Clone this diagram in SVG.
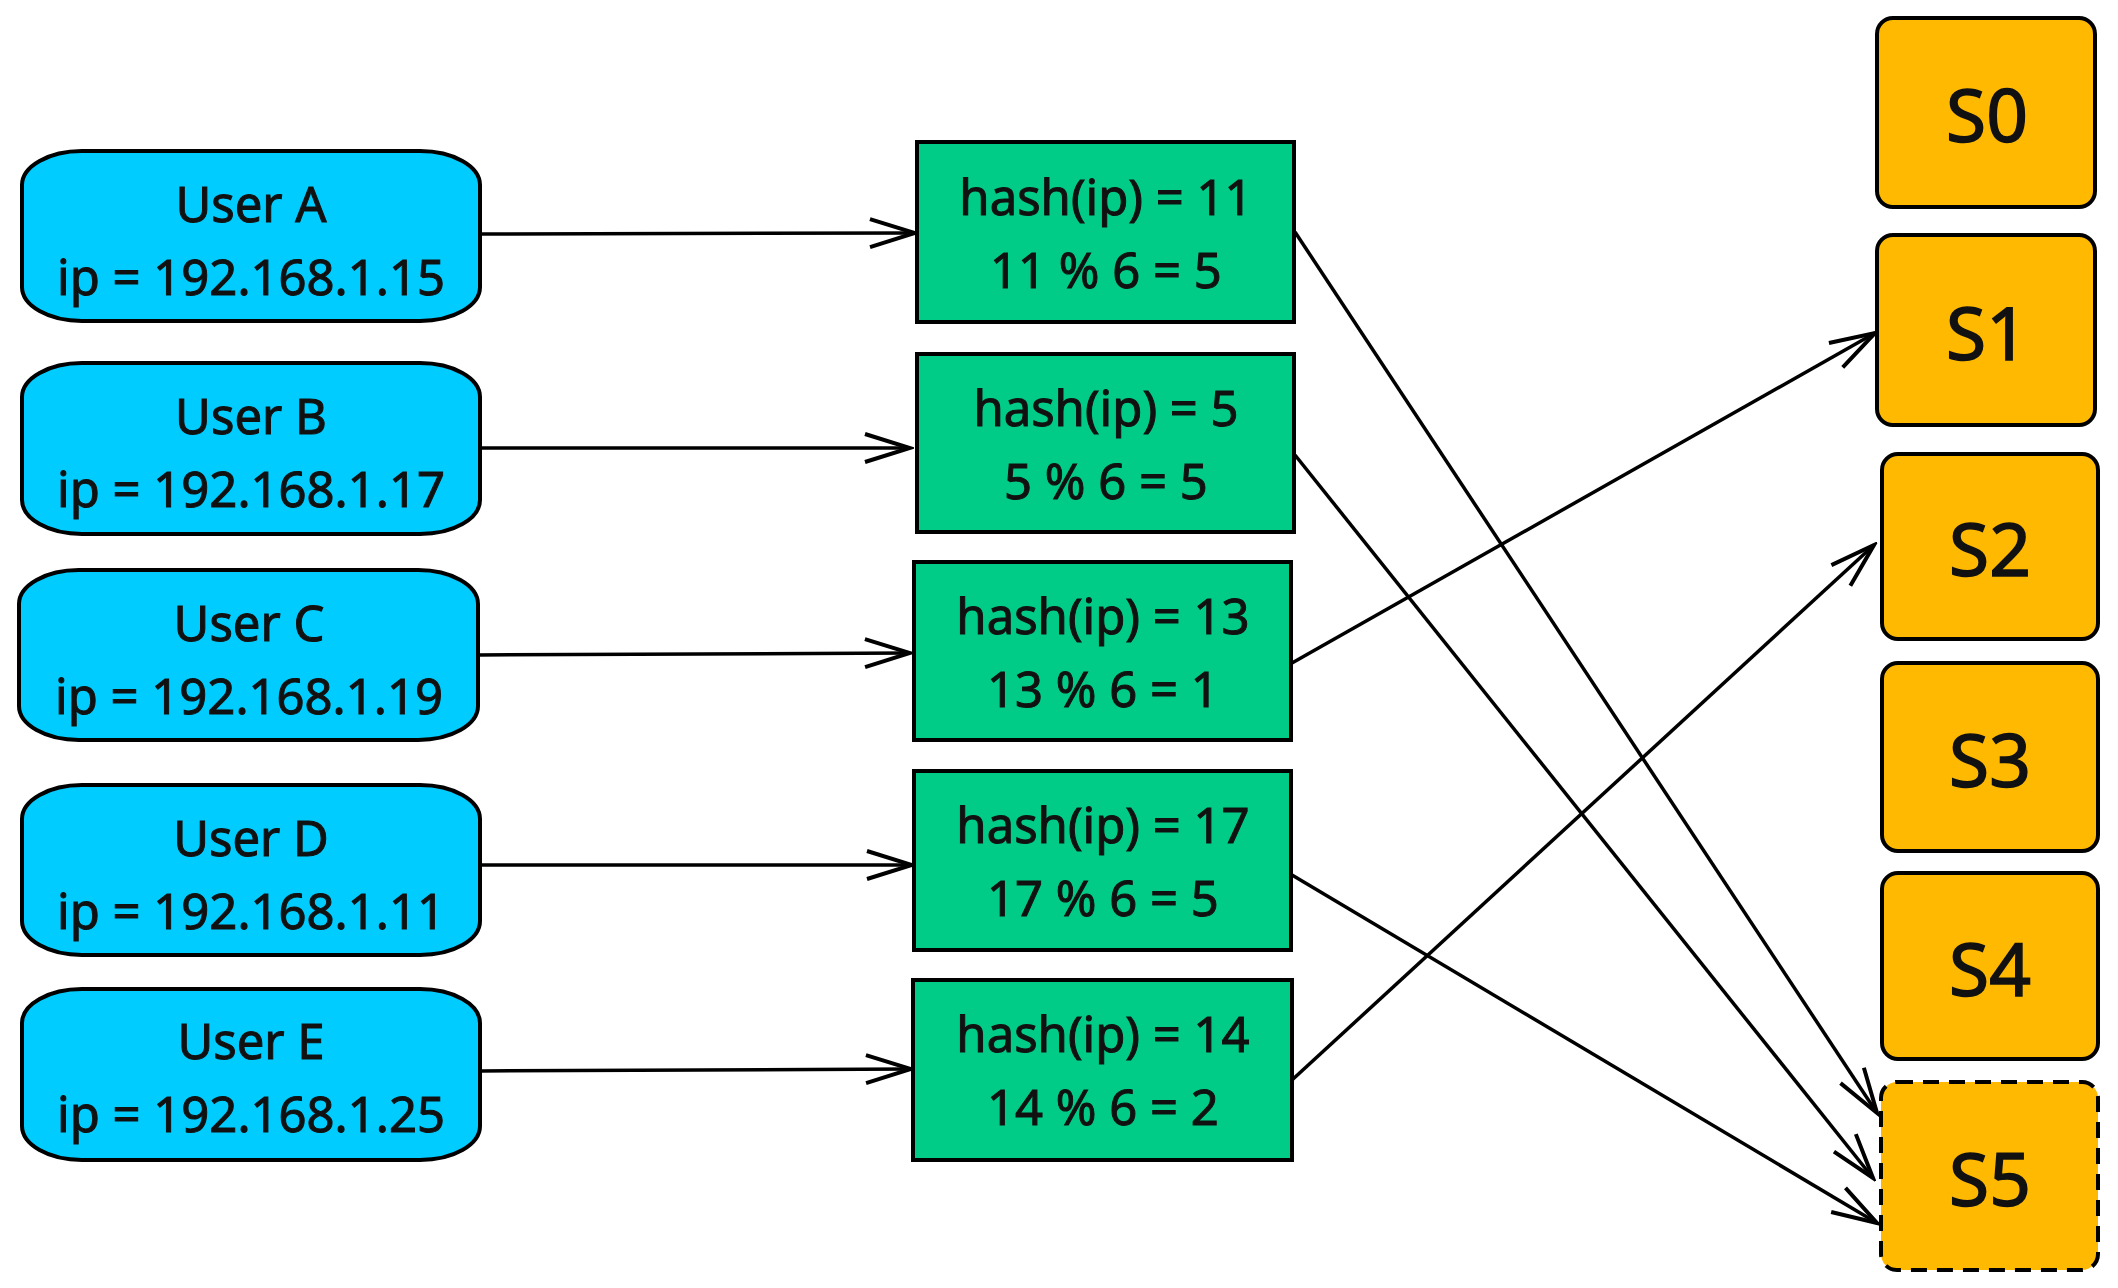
<svg xmlns="http://www.w3.org/2000/svg" width="2118" height="1288" viewBox="0 0 2118 1288">
<style>
text{font-family:"Comic Sans MS","Noto Sans","DejaVu Sans",sans-serif;fill:#111;stroke:#111;stroke-width:1;text-anchor:middle}
.u{fill:#00CCFF;stroke:#000;stroke-width:4}
.h{fill:#00CC88;stroke:#000;stroke-width:4}
.s{fill:#FFB900;stroke:#000;stroke-width:4}
.t{font-size:49px}
.st{font-size:73px;stroke-width:1.5}
.c{fill:none;stroke:#000;stroke-width:3.5;marker-end:url(#arr)}
</style>
<defs>
<marker id="arr" markerUnits="userSpaceOnUse" markerWidth="52" markerHeight="36" viewBox="-3 -3 52 36" refX="45" refY="14" orient="auto">
<path d="M0,0 L45,14 L0,28" fill="none" stroke="#000" stroke-width="4"/>
</marker>
</defs>
<rect width="2118" height="1288" fill="#fff"/>
<g id="connectors">
<path class="c" d="M480,234 L915,233"/>
<path class="c" d="M480,448 L910,448"/>
<path class="c" d="M478,655 L910,653"/>
<path class="c" d="M480,865 L912,865"/>
<path class="c" d="M480,1071 L911,1069"/>
<path class="c" d="M1295,232 L1877,1113"/>
<path class="c" d="M1295,455 L1873,1178"/>
<path class="c" d="M1292,663 L1875,333"/>
<path class="c" d="M1292,875 L1877,1223"/>
<path class="c" d="M1292,1080 L1874,545"/>
</g>
<g id="userA"><rect class="u" x="22" y="151" width="458" height="170" rx="60" ry="34"/><text class="t" x="251" y="222">User A</text><text class="t" x="251" y="295">ip = 192.168.1.15</text></g>
<g id="userB"><rect class="u" x="22" y="363" width="458" height="171" rx="60" ry="34"/><text class="t" x="251" y="434">User B</text><text class="t" x="251" y="507">ip = 192.168.1.17</text></g>
<g id="userC"><rect class="u" x="19" y="570" width="459" height="170" rx="60" ry="34"/><text class="t" x="249" y="641">User C</text><text class="t" x="249" y="714">ip = 192.168.1.19</text></g>
<g id="userD"><rect class="u" x="22" y="785" width="458" height="170" rx="60" ry="34"/><text class="t" x="251" y="856">User D</text><text class="t" x="251" y="929">ip = 192.168.1.11</text></g>
<g id="userE"><rect class="u" x="22" y="989" width="458" height="171" rx="60" ry="34"/><text class="t" x="251" y="1059">User E</text><text class="t" x="251" y="1132">ip = 192.168.1.25</text></g>
<g id="hash1"><rect class="h" x="917" y="142" width="377" height="180"/><text class="t" x="1106" y="215">hash(ip) = 11</text><text class="t" x="1106" y="288">11 % 6 = 5</text></g>
<g id="hash2"><rect class="h" x="917" y="354" width="377" height="178"/><text class="t" x="1106" y="426">hash(ip) = 5</text><text class="t" x="1106" y="499">5 % 6 = 5</text></g>
<g id="hash3"><rect class="h" x="914" y="562" width="377" height="178"/><text class="t" x="1103" y="634">hash(ip) = 13</text><text class="t" x="1103" y="707">13 % 6 = 1</text></g>
<g id="hash4"><rect class="h" x="914" y="771" width="377" height="179"/><text class="t" x="1103" y="843">hash(ip) = 17</text><text class="t" x="1103" y="916">17 % 6 = 5</text></g>
<g id="hash5"><rect class="h" x="913" y="980" width="379" height="180"/><text class="t" x="1103" y="1052">hash(ip) = 14</text><text class="t" x="1103" y="1125">14 % 6 = 2</text></g>
<g id="S0"><rect class="s" x="1877" y="18" width="218" height="189" rx="16"/><text class="st" x="1987" y="142">S0</text></g>
<g id="S1"><rect class="s" x="1877" y="235" width="218" height="190" rx="16"/><text class="st" x="1987" y="360">S1</text></g>
<g id="S2"><rect class="s" x="1882" y="454" width="216" height="185" rx="16"/><text class="st" x="1990" y="576">S2</text></g>
<g id="S3"><rect class="s" x="1882" y="663" width="216" height="188" rx="16"/><text class="st" x="1990" y="787">S3</text></g>
<g id="S4"><rect class="s" x="1882" y="873" width="216" height="186" rx="16"/><text class="st" x="1990" y="996">S4</text></g>
<g id="S5"><rect class="s" x="1881" y="1082" width="217" height="188" rx="16" stroke-dasharray="16 10"/><text class="st" x="1990" y="1206">S5</text></g>
</svg>
